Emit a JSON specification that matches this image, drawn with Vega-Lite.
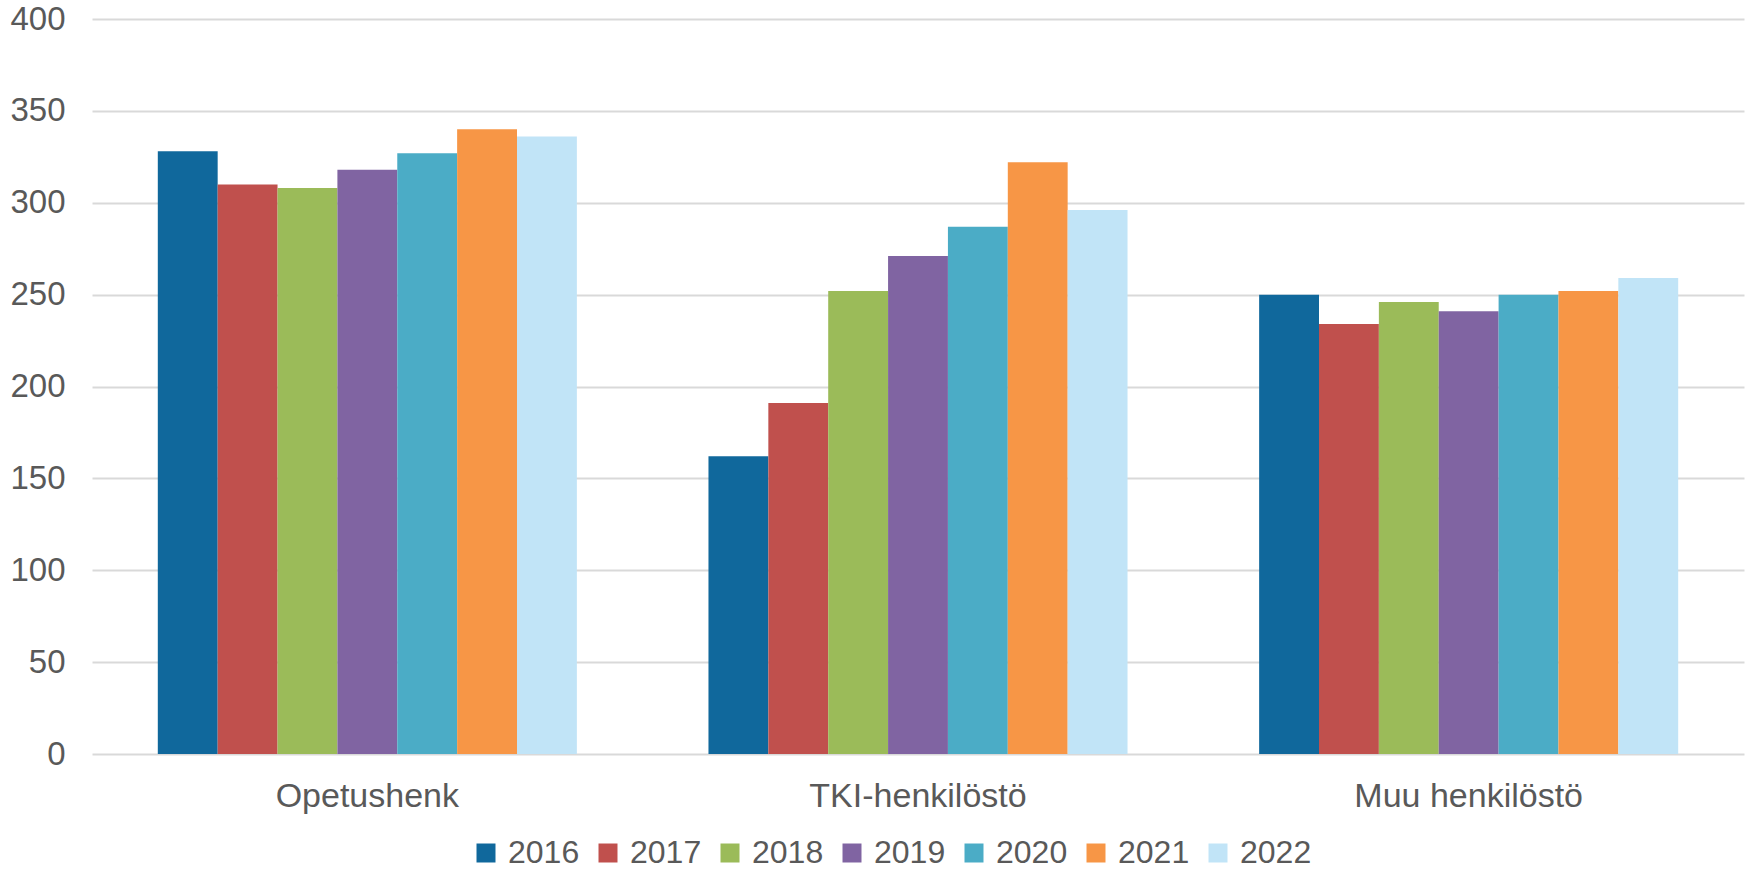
{
  "$schema": "https://vega.github.io/schema/vega-lite/v6.json",
  "autosize": {"type": "none"},
  "width": 1652,
  "height": 735,
  "padding": {"left": 92, "top": 19, "right": 2, "bottom": 115},
  "background": "white",
  "config": {
    "view": {"stroke": null},
    "font": "Liberation Sans"
  },
  "data": {
    "values": [
      {"group": "Opetushenk", "year": "2016", "value": 328},
      {"group": "Opetushenk", "year": "2017", "value": 310},
      {"group": "Opetushenk", "year": "2018", "value": 308},
      {"group": "Opetushenk", "year": "2019", "value": 318},
      {"group": "Opetushenk", "year": "2020", "value": 327},
      {"group": "Opetushenk", "year": "2021", "value": 340},
      {"group": "Opetushenk", "year": "2022", "value": 336},
      {"group": "TKI-henkilöstö", "year": "2016", "value": 162},
      {"group": "TKI-henkilöstö", "year": "2017", "value": 191},
      {"group": "TKI-henkilöstö", "year": "2018", "value": 252},
      {"group": "TKI-henkilöstö", "year": "2019", "value": 271},
      {"group": "TKI-henkilöstö", "year": "2020", "value": 287},
      {"group": "TKI-henkilöstö", "year": "2021", "value": 322},
      {"group": "TKI-henkilöstö", "year": "2022", "value": 296},
      {"group": "Muu henkilöstö", "year": "2016", "value": 250},
      {"group": "Muu henkilöstö", "year": "2017", "value": 234},
      {"group": "Muu henkilöstö", "year": "2018", "value": 246},
      {"group": "Muu henkilöstö", "year": "2019", "value": 241},
      {"group": "Muu henkilöstö", "year": "2020", "value": 250},
      {"group": "Muu henkilöstö", "year": "2021", "value": 252},
      {"group": "Muu henkilöstö", "year": "2022", "value": 259}
    ]
  },
  "mark": {"type": "bar"},
  "encoding": {
    "x": {
      "field": "group",
      "type": "nominal",
      "sort": ["Opetushenk", "TKI-henkilöstö", "Muu henkilöstö"],
      "scale": {"paddingInner": 0.239, "paddingOuter": 0.1195},
      "axis": {
        "title": null,
        "labelAngle": 0,
        "labelFontSize": 34,
        "labelLimit": 0,
        "labelColor": "#595959",
        "labelPadding": 25,
        "ticks": false,
        "domain": false,
        "grid": false
      }
    },
    "xOffset": {
      "field": "year",
      "type": "nominal",
      "scale": {"paddingInner": 0, "paddingOuter": 0}
    },
    "y": {
      "field": "value",
      "type": "quantitative",
      "scale": {"domain": [0, 400], "nice": false},
      "axis": {
        "title": null,
        "values": [0, 50, 100, 150, 200, 250, 300, 350, 400],
        "labelFontSize": 33,
        "labelColor": "#595959",
        "labelPadding": 27,
        "ticks": false,
        "domain": false,
        "grid": true,
        "gridColor": "#D9D9D9",
        "gridWidth": 1.8
      }
    },
    "color": {
      "field": "year",
      "type": "nominal",
      "scale": {
        "domain": ["2016", "2017", "2018", "2019", "2020", "2021", "2022"],
        "range": ["#10689C", "#C0504D", "#9BBB59", "#8064A2", "#4BACC6", "#F79646", "#C1E4F7"]
      },
      "legend": {
        "title": null,
        "orient": "none",
        "direction": "horizontal",
        "legendX": 378,
        "legendY": 818,
        "symbolType": "square",
        "symbolSize": 361,
        "symbolStrokeWidth": 0,
        "labelFontSize": 32,
        "labelColor": "#595959",
        "labelOffset": 6,
        "columnPadding": 12
      }
    }
  }
}
